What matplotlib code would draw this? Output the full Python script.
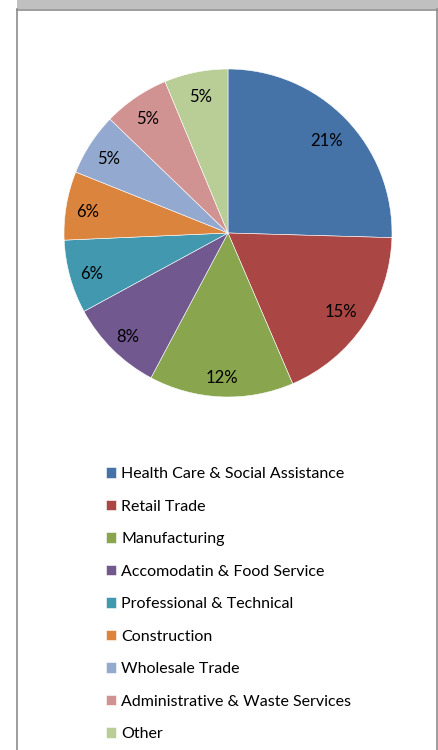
import matplotlib
matplotlib.use("Agg")
import matplotlib.pyplot as plt
from matplotlib.patches import Rectangle
from matplotlib.lines import Line2D
import numpy as np

categories = ["Health Care & Social Assistance", "Retail Trade", "Manufacturing",
              "Accomodatin & Food Service", "Professional & Technical", "Construction",
              "Wholesale Trade", "Administrative & Waste Services", "Other"]
# shares in percent (labels shown rounded); slices are drawn proportional to them
values = [21.1, 15.0, 11.8, 7.7, 6.0, 5.6, 5.1, 5.4, 5.2]
colors = ["#4572A7", "#AA4643", "#89A54E", "#71588F", "#4198AF", "#DB843D",
          "#93A9CF", "#D19392", "#B9CD96"]

W, H = 439, 750
fig = plt.figure(figsize=(W / 100, H / 100), dpi=100)
fig.patch.set_facecolor("white")
FONT = "Lato"

def px(x, y):
    return x / W, 1 - y / H

# frame decorations
fig.add_artist(Rectangle(px(17, 9), (W - 17) / W, 9 / H, transform=fig.transFigure,
                         facecolor="#c0c0c0", edgecolor="none"))
for xs, ys in [((17, 17), (9, 750)), ((437.5, 437.5), (9, 750)), ((17, 437.5), (9.5, 9.5))]:
    fig.add_artist(Line2D([xs[0] / W, xs[1] / W], [1 - ys[0] / H, 1 - ys[1] / H],
                          transform=fig.transFigure, color="#8c8c8c", linewidth=1.2))

# pie axes: centre (228,233), radius 164 px
cx, cy, r = 228, 233, 164
ax = fig.add_axes([(cx - r) / W, 1 - (cy + r) / H, 2 * r / W, 2 * r / H])
wedges, texts = ax.pie(values, colors=colors, startangle=90, counterclock=False,
                       radius=1.0, wedgeprops=dict(edgecolor="white", linewidth=0.4))
ax.set_xlim(-1, 1)
ax.set_ylim(-1, 1)
ax.set_aspect("equal")
ax.axis("off")

total = sum(values)
ang = 90.0
for v in values:
    lab = f"{round(v):.0f}%"
    span = v / total * 360
    mid = np.deg2rad(ang - span / 2)
    ang -= span
    # wider labels are pulled slightly inward on the sides (fit inside slice)
    d_px = 142 - max(0, (len(lab) - 2)) * 8 * abs(np.cos(mid)) * 0.9
    d = d_px / r
    ax.text(d * np.cos(mid), d * np.sin(mid) - 3 / r, lab, ha="center", va="center",
            fontsize=12, family=FONT, color="black")

leg = fig.legend(wedges, categories, loc="upper left",
                 bbox_to_anchor=(106 / W, 1 - 467 / H), frameon=False,
                 prop={"family": FONT, "size": 11.5},
                 handlelength=0.65, handleheight=0.65, handletextpad=0.32,
                 labelspacing=1.16, borderaxespad=0, borderpad=0)

fig.savefig("out.png", dpi=100)
